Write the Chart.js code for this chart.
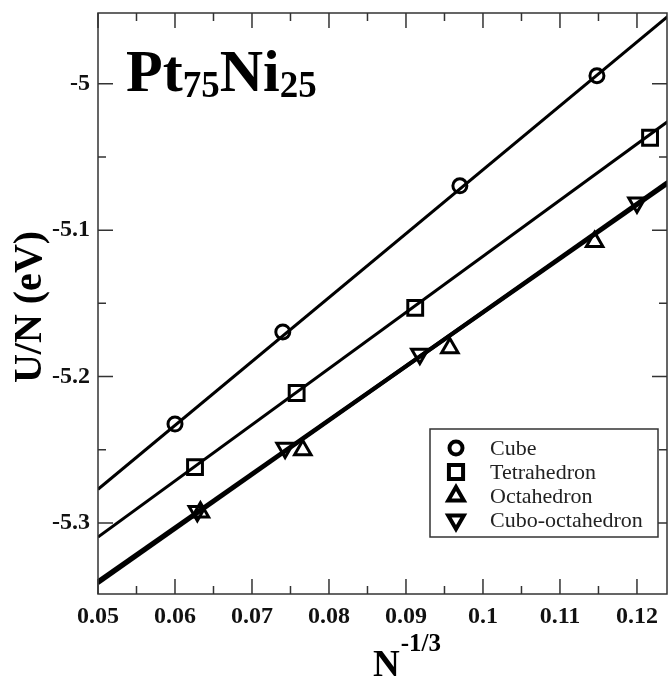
<!DOCTYPE html>
<html>
<head>
<meta charset="utf-8">
<script src="https://cdn.jsdelivr.net/npm/chart.js"></script>
<style>
  body { margin: 0; background: #fff; }
</style>
</head>
<body>
<canvas id="energyChart" width="669" height="679"></canvas>
<script>
// values
const seriesNames = ['Cube', 'Tetrahedron', 'Octahedron', 'Cubo-octahedron'];

const cubeX = [0.0600, 0.0740, 0.0970, 0.1148];
const cubeY = [-5.2324, -5.1695, -5.0697, -4.9945];
const tetraX = [0.0626, 0.0758, 0.0912, 0.1217];
const tetraY = [-5.2618, -5.2112, -5.1531, -5.0369];
const octaX = [0.0633, 0.0766, 0.0957, 0.1145];
const octaY = [-5.2926, -5.2502, -5.1805, -5.1080];
const cuboX = [0.0629, 0.0743, 0.0918, 0.1200];
const cuboY = [-5.2919, -5.2488, -5.1846, -5.0813];

// fitted straight lines, read at both ends of the x range
const fitX = [0.05, 0.124];
const cubeFit = [-5.277, -4.954];
const tetraFit = [-5.3096, -5.0258];
const octaFit = [-5.3397, -5.0681];
const cuboFit = [-5.3411, -5.0671];

const xTicks = [0.05, 0.06, 0.07, 0.08, 0.09, 0.10, 0.11, 0.12];
const yTicks = [-5.3, -5.2, -5.1, -5.0];
const xMin = 0.05, xMax = 0.1239;
const yMin = -5.3485, yMax = -4.9517;

const SERIF = '"Liberation Serif", "DejaVu Serif", serif';

function pts(xs, ys) {
    return xs.map((v, i) => ({ x: v, y: ys[i] }));
}

function markerSet(label, xs, ys, style, radius, rotation) {
    return {
        type: 'scatter',
        label: label,
        data: pts(xs, ys),
        showLine: false,
        pointStyle: style,
        pointRadius: radius,
        pointHoverRadius: radius,
        pointRotation: rotation,
        pointBorderWidth: 3,
        pointBorderColor: '#000',
        pointBackgroundColor: 'rgba(0,0,0,0)'
    };
}

function fitSet(ys, width) {
    return {
        type: 'line',
        label: '',
        data: pts(fitX, ys),
        borderColor: '#000',
        borderWidth: width,
        pointRadius: 0,
        fill: false
    };
}

function minorOf(ticks, lo, hi) {
    const step = ticks[1] - ticks[0];
    const out = [];
    ticks.forEach(t => {
        [t - step / 2, t + step / 2].forEach(m => {
            if (m > lo && m < hi && !out.some(o => Math.abs(o - m) < 1e-9)) out.push(m);
        });
    });
    return out;
}

// labels must not push the plot box inwards
function noPad(s) {
    s.paddingTop = 0;
    s.paddingBottom = 0;
    s.paddingLeft = 0;
    s.paddingRight = 0;
}

// box and inward ticks on all four sides
const frameTicks = {
    id: 'frameTicks',
    afterDatasetsDraw(chart) {
        const { ctx, chartArea: a, scales: { x, y } } = chart;
        ctx.save();
        ctx.strokeStyle = '#333';
        ctx.lineWidth = 1.5;
        ctx.strokeRect(a.left, a.top, a.right - a.left, a.bottom - a.top);
        ctx.beginPath();
        const xt = (v, len) => {
            const px = x.getPixelForValue(v);
            ctx.moveTo(px, a.bottom); ctx.lineTo(px, a.bottom - len);
            ctx.moveTo(px, a.top); ctx.lineTo(px, a.top + len);
        };
        const yt = (v, len) => {
            const py = y.getPixelForValue(v);
            ctx.moveTo(a.left, py); ctx.lineTo(a.left + len, py);
            ctx.moveTo(a.right, py); ctx.lineTo(a.right - len, py);
        };
        xTicks.forEach(v => xt(v, 15));
        minorOf(xTicks, xMin, xMax).forEach(v => xt(v, 8));
        yTicks.forEach(v => yt(v, 15));
        minorOf(yTicks, yMin, yMax).forEach(v => yt(v, 8));
        ctx.stroke();
        ctx.restore();
    }
};

// legend box, compound title and axis titles
const labelsPlugin = {
    id: 'labelsPlugin',
    afterDraw(chart) {
        const ctx = chart.ctx;
        ctx.save();

        // legend
        ctx.fillStyle = '#fff';
        ctx.fillRect(430, 429, 228, 108);
        ctx.strokeStyle = '#333';
        ctx.lineWidth = 1.5;
        ctx.strokeRect(430, 429, 228, 108);
        seriesNames.forEach((name, i) => {
            const ds = chart.data.datasets[i];
            const yy = 448 + i * 24;
            ctx.strokeStyle = '#000';
            ctx.fillStyle = 'rgba(0,0,0,0)';
            ctx.lineWidth = 4;
            Chart.helpers.drawPoint(ctx, {
                pointStyle: ds.pointStyle,
                rotation: ds.pointRotation,
                radius: ds.pointRadius - 0.5,
                borderWidth: 4
            }, 456, yy);
            ctx.fillStyle = '#222';
            ctx.font = '22px ' + SERIF;
            ctx.textAlign = 'left';
            ctx.textBaseline = 'middle';
            ctx.fillText(name, 490, yy + 1);
        });

        // Pt75Ni25
        ctx.fillStyle = '#000';
        ctx.textAlign = 'left';
        ctx.textBaseline = 'alphabetic';
        let tx = 126;
        const part = (txt, size, base) => {
            ctx.font = 'bold ' + size + 'px ' + SERIF;
            ctx.fillText(txt, tx, base);
            tx += ctx.measureText(txt).width;
        };
        part('Pt', 60, 91);
        part('75', 37, 97);
        part('Ni', 60, 91);
        part('25', 37, 97);

        // x title N^-1/3
        ctx.font = 'bold 37px ' + SERIF;
        const nW = ctx.measureText('N').width;
        ctx.fillText('N', 373, 676);
        ctx.font = 'bold 25px ' + SERIF;
        ctx.fillText('-1/3', 373 + nW + 1, 651);

        // y title
        ctx.translate(41, 307);
        ctx.rotate(-Math.PI / 2);
        ctx.textAlign = 'center';
        ctx.font = 'bold 40px ' + SERIF;
        ctx.fillText('U/N (eV)', 0, 0);
        ctx.restore();
    }
};

new Chart(document.getElementById('energyChart'), {
    type: 'scatter',
    data: {
        datasets: [
            markerSet(seriesNames[0], cubeX, cubeY, 'circle', 7, 0),
            markerSet(seriesNames[1], tetraX, tetraY, 'rect', 10.5, 0),
            markerSet(seriesNames[2], octaX, octaY, 'triangle', 9.5, 0),
            markerSet(seriesNames[3], cuboX, cuboY, 'triangle', 9.5, 180),
            fitSet(cubeFit, 3),
            fitSet(tetraFit, 3),
            fitSet(octaFit, 4),
            fitSet(cuboFit, 4)
        ]
    },
    options: {
        responsive: false,
        animation: false,
        layout: { autoPadding: false, padding: { top: 13, right: 2, left: 0, bottom: 0 } },
        plugins: {
            legend: { display: false },
            tooltip: { enabled: false }
        },
        scales: {
            x: {
                type: 'linear',
                min: xMin,
                max: xMax,
                grid: { display: false, drawTicks: false },
                border: { display: false },
                afterBuildTicks: s => { s.ticks = xTicks.map(v => ({ value: v })); },
                afterFit: s => { s.height = 85; noPad(s); },
                ticks: {
                    padding: 8,
                    color: '#111',
                    font: { family: SERIF, size: 24, weight: 'bold' },
                    maxRotation: 0,
                    callback: v => String(Number(v.toFixed(2)))
                }
            },
            y: {
                type: 'linear',
                min: yMin,
                max: yMax,
                grid: { display: false, drawTicks: false },
                border: { display: false },
                afterBuildTicks: s => { s.ticks = yTicks.map(v => ({ value: v })); },
                afterFit: s => { s.width = 98; noPad(s); },
                ticks: {
                    padding: 8,
                    color: '#111',
                    font: { family: SERIF, size: 24, weight: 'bold' },
                    callback: v => String(Number(v.toFixed(1)))
                }
            }
        }
    },
    plugins: [frameTicks, labelsPlugin]
});
</script>
</body>
</html>
